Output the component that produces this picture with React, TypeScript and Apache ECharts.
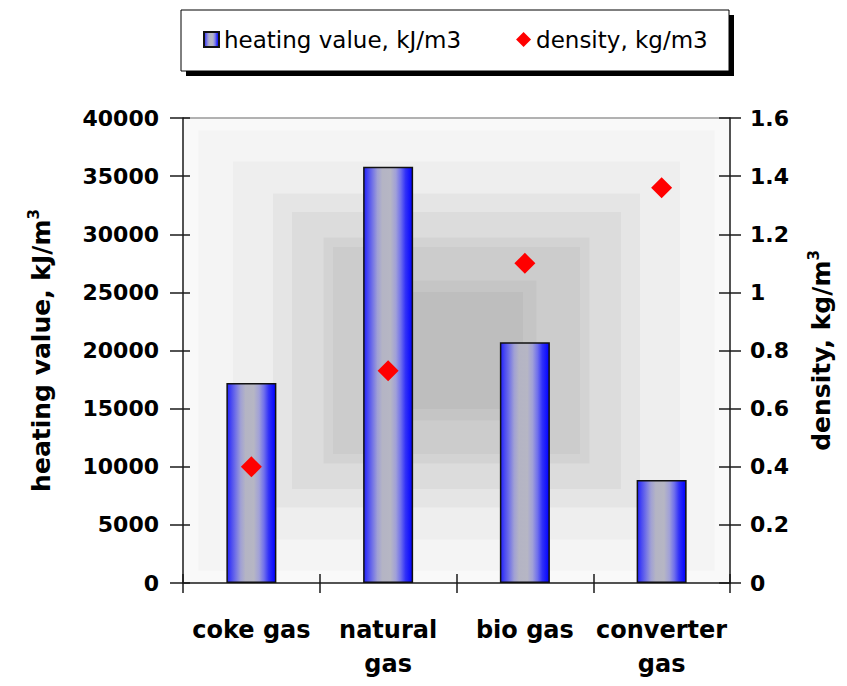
import React, { useEffect, useRef } from "react";
import * as echarts from "echarts";

// ---- data ----
const categories = ["coke gas", "natural\ngas", "bio gas", "converter\ngas"];
const heatingValues = [17200, 35800, 20700, 8850];
const densityValues = [0.4, 0.73, 1.1, 1.36];
const heatingAxis = { min: 0, max: 40000, interval: 5000 };
const densityAxis = { min: 0, max: 1.6, interval: 0.2 };
const heatingName = "heating value, kJ/m3";
const densityName = "density, kg/m3";

// ---- layout / style ----
const W = 847;
const H = 686;
const GRID = { left: 183, top: 118, right: 117, bottom: 103 };
const GW = W - GRID.left - GRID.right;
const GH = H - GRID.top - GRID.bottom;
// concentric background bands: half width, half height, colour
const BANDS: [number, number, string][] = [
  [273.5, 232.5, "#f9f9f9"],
  [258, 220, "#f4f4f4"],
  [223.5, 189, "#eeeeee"],
  [183.5, 157, "#e5e5e5"],
  [164.5, 138.5, "#dcdcdc"],
  [133, 113, "#d3d3d3"],
  [123.5, 103.5, "#cccccc"],
  [80, 70, "#c5c5c5"],
  [66.5, 58.5, "#bebebe"],
];

const FONT = "DejaVu Sans";
const AXIS_COLOR = "#1a1a1a";

export default function App() {
  const ref = useRef<HTMLDivElement>(null);

  useEffect(() => {
    if (!ref.current) return;
    const chart = echarts.init(ref.current, null, { renderer: "svg" });

    const cx = GRID.left + GW / 2;
    const cy = GRID.top + GH / 2;
    const bandEls = BANDS.map(([hw, hh, c]) => ({
      type: "rect",
      z: -10,
      silent: true,
      shape: { x: cx - hw, y: cy - hh, width: hw * 2, height: hh * 2 },
      style: { fill: c },
    }));

    const barGradient = new echarts.graphic.LinearGradient(0, 0, 1, 0, [
      { offset: 0, color: "#2020ff" },
      { offset: 0.08, color: "#4848f2" },
      { offset: 0.18, color: "#7474e6" },
      { offset: 0.28, color: "#a0a0d4" },
      { offset: 0.38, color: "#b4b4c4" },
      { offset: 0.55, color: "#b6b6c4" },
      { offset: 0.66, color: "#a0a0d8" },
      { offset: 0.76, color: "#7070ec" },
      { offset: 0.86, color: "#3030f8" },
      { offset: 1, color: "#0000ff" },
    ]);

    const labelFont = {
      fontFamily: FONT,
      fontWeight: "bold" as const,
      fontSize: 22,
      color: "#000",
    };
    const nameRich = {
      t: { fontFamily: FONT, fontWeight: "bold", fontSize: 25, lineHeight: 31, color: "#000" },
      s: { fontFamily: FONT, fontWeight: "bold", fontSize: 15, lineHeight: 16, verticalAlign: "top", color: "#000" },
    };
    const tickStyle = { color: AXIS_COLOR, width: 1.5 };

    chart.setOption({
      animation: false,
      grid: { left: GRID.left, right: GRID.right, top: GRID.top, bottom: GRID.bottom, containLabel: false },
      graphic: [
        ...bandEls,
        {
          type: "line",
          z: -5,
          silent: true,
          shape: { x1: GRID.left, y1: GRID.top, x2: GRID.left + GW, y2: GRID.top },
          style: { stroke: "#999", lineWidth: 1.5 },
        },
        {
          type: "rect",
          z: -10,
          silent: true,
          shape: { x: 186, y: 15, width: 548, height: 61 },
          style: { fill: "#000" },
        },
        {
          type: "rect",
          z: -9,
          silent: true,
          shape: { x: 181, y: 10, width: 548, height: 61 },
          style: { fill: "#fff", stroke: "#000", lineWidth: 1 },
        },
      ],
      legend: {
        left: 203,
        top: 28,
        padding: 0,
        itemGap: 55,
        itemWidth: 15,
        itemHeight: 15,
        textStyle: { fontFamily: FONT, fontSize: 23, color: "#000" },
        data: [
          { name: heatingName, icon: "rect" },
          { name: densityName, icon: "diamond" },
        ],
      },
      xAxis: [
        {
          type: "category",
          data: categories,
          position: "bottom",
          axisLine: { show: true, lineStyle: tickStyle },
          axisTick: { show: true, inside: false, length: 10, lineStyle: tickStyle },
          axisLabel: { ...labelFont, fontSize: 24, margin: 30, lineHeight: 34, interval: 0 },
          splitLine: { show: false },
        },
        {
          type: "category",
          data: categories,
          position: "bottom",
          axisLine: { show: false },
          axisTick: { show: true, inside: true, length: 9, lineStyle: tickStyle },
          axisLabel: { show: false },
          splitLine: { show: false },
        },
      ],
      yAxis: [
        {
          type: "value",
          position: "left",
          ...heatingAxis,
          name: "{t|heating value, kJ/m}{s|3}",
          nameLocation: "middle",
          nameRotate: 90,
          nameGap: 126,
          nameTextStyle: { rich: nameRich },
          axisLine: { show: true, lineStyle: tickStyle },
          axisTick: { show: true, inside: false, length: 13, lineStyle: tickStyle },
          axisLabel: { ...labelFont, margin: 24, formatter: (v: number) => String(v) },
          splitLine: { show: false },
        },
        {
          type: "value",
          position: "right",
          ...densityAxis,
          name: "{t|density, kg/m}{s|3}",
          nameLocation: "middle",
          nameRotate: 90,
          nameGap: 76,
          nameTextStyle: { rich: nameRich },
          axisLine: { show: true, lineStyle: tickStyle },
          axisTick: { show: true, inside: false, length: 11, lineStyle: tickStyle },
          axisLabel: { ...labelFont, margin: 20 },
          splitLine: { show: false },
        },
        {
          type: "value",
          position: "left",
          ...heatingAxis,
          axisLine: { show: false },
          axisTick: { show: true, inside: true, length: 7, lineStyle: tickStyle },
          axisLabel: { show: false },
          splitLine: { show: false },
        },
        {
          type: "value",
          position: "right",
          ...densityAxis,
          axisLine: { show: false },
          axisTick: { show: true, inside: true, length: 11, lineStyle: tickStyle },
          axisLabel: { show: false },
          splitLine: { show: false },
        },
      ],
      series: [
        {
          name: heatingName,
          type: "bar",
          xAxisIndex: 0,
          yAxisIndex: 0,
          data: heatingValues,
          barWidth: 50,
          itemStyle: { color: barGradient, borderColor: "#111", borderWidth: 1.5 },
        },
        {
          name: densityName,
          type: "scatter",
          xAxisIndex: 0,
          yAxisIndex: 1,
          data: densityValues,
          symbol: "diamond",
          symbolSize: 21,
          itemStyle: { color: "#ff0000", opacity: 1 },
          z: 5,
        },
      ],
    });

    return () => chart.dispose();
  }, []);

  return (
    <div
      ref={ref}
      style={{ position: "fixed", left: 0, top: 0, width: W, height: H, background: "#fff" }}
    />
  );
}
